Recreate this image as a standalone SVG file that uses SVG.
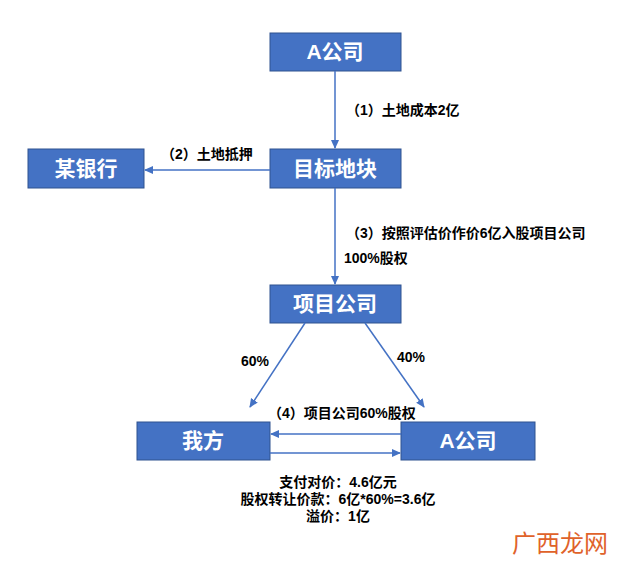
<svg xmlns="http://www.w3.org/2000/svg" width="640" height="569" viewBox="0 0 640 569">
<style>
.box{fill:#4472c4;stroke:#2f528f;stroke-width:1}
.bt{font-family:"Liberation Sans","Noto Sans CJK SC",sans-serif;font-size:21px;font-weight:bold;fill:#fff;text-anchor:middle}
.lb{font-family:"Liberation Sans","Noto Sans CJK SC",sans-serif;font-size:14px;font-weight:bold;fill:#000}
.ln{stroke:#4472c4;stroke-width:1.5;fill:none;marker-end:url(#ah)}
</style>
<defs><marker id="ah" markerWidth="10" markerHeight="10" refX="8" refY="5" orient="auto" markerUnits="userSpaceOnUse"><path d="M0,1 L9,5 L0,9 z" fill="#4472c4"/></marker></defs>
<rect width="640" height="569" fill="#fff"/>
<g id="n1"><rect class="box" x="270" y="33" width="131" height="38"/><text class="bt" x="335" y="59">A公司</text></g>
<g id="n2"><rect class="box" x="270" y="149" width="131" height="39"/><text class="bt" x="335" y="176">目标地块</text></g>
<g id="n3"><rect class="box" x="28" y="149" width="116" height="39"/><text class="bt" x="86" y="176">某银行</text></g>
<g id="n4"><rect class="box" x="270" y="285" width="131" height="38"/><text class="bt" x="335" y="311">项目公司</text></g>
<g id="n5"><rect class="box" x="137" y="422" width="133" height="38"/><text class="bt" x="203" y="448">我方</text></g>
<g id="n6"><rect class="box" x="401" y="422" width="134" height="38"/><text class="bt" x="468" y="448">A公司</text></g>
<g id="connectors">
<line class="ln" x1="335" y1="71" x2="335" y2="148"/>
<line class="ln" x1="270" y1="170" x2="145" y2="170"/>
<line class="ln" x1="335" y1="188" x2="335" y2="284"/>
<line class="ln" x1="305" y1="323" x2="250" y2="407"/>
<line class="ln" x1="365" y1="323" x2="424" y2="407"/>
<line class="ln" x1="401" y1="434" x2="271" y2="434"/>
<line class="ln" x1="270" y1="453" x2="400" y2="453"/>
</g>
<g id="labels">
<text class="lb" x="346" y="115">（1）土地成本2亿</text>
<text class="lb" x="161" y="159">（2）土地抵押</text>
<text class="lb" x="346" y="238">（3）按照评估价作价6亿入股项目公司</text>
<text class="lb" x="344" y="263">100%股权</text>
<text class="lb" x="241" y="366">60%</text>
<text class="lb" x="397" y="362">40%</text>
<text class="lb" x="268" y="418">（4）项目公司60%股权</text>
<text class="lb" x="338" y="487" text-anchor="middle">支付对价：4.6亿元</text>
<text class="lb" x="338" y="504" text-anchor="middle">股权转让价款：6亿*60%=3.6亿</text>
<text class="lb" x="338" y="521" text-anchor="middle">溢价：1亿</text>
<text x="560" y="552" text-anchor="middle" font-family="Noto Sans CJK SC,sans-serif" font-size="24" fill="#e0622a">广西龙网</text>
</g>
</svg>
